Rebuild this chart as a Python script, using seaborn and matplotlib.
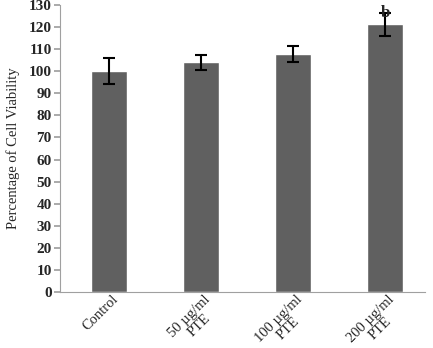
import matplotlib
matplotlib.use('Agg')
import matplotlib.pyplot as plt
import matplotlib.transforms as mtransforms
import seaborn as sns
import pandas as pd

# Cell viability data
groups = ['Control', '50 µg/ml\nPTE', '100 µg/ml\nPTE', '200 µg/ml\nPTE']
viability = [100.2, 104.0, 107.8, 121.2]
errors = [6.0, 3.5, 3.5, 5.2]
sig_labels = ['', '', '', 'b']

df = pd.DataFrame({'group': groups, 'viability': viability})

sns.set_theme(style='white')
plt.rcParams['font.family'] = ['Liberation Serif', 'DejaVu Serif']

fig = plt.figure(figsize=(4.33, 3.48), dpi=100)
ax = fig.add_axes([60 / 433, 56 / 348, 365 / 433, 287 / 348])

sns.barplot(ax=ax, data=df, x='group', y='viability',
            color='#606060', saturation=1, width=0.39, errorbar=None)

ax.errorbar(x=range(len(groups)), y=viability, yerr=errors,
            fmt='none', ecolor='black', elinewidth=1.5, capsize=4, capthick=1.5)

for i, lab in enumerate(sig_labels):
    if lab:
        ax.text(i, viability[i] + errors[i] - 3.5, lab, ha='center', va='bottom',
                fontsize=12, fontweight='bold')

ax.set_ylim(0, 130)
ax.set_xlim(-0.533, 3.435)
ax.set_yticks(range(0, 131, 10))
ax.set_yticklabels([str(v) for v in range(0, 131, 10)], fontweight='bold', fontsize=11)

# x labels placed by hand so they hug the axis like the original
ax.set_xticks(range(len(groups)))
ax.set_xticklabels([])
lab_trans = ax.get_xaxis_transform() + mtransforms.ScaledTranslation(
    3 / 100, -1 / 100, fig.dpi_scale_trans)
for i, g in enumerate(groups):
    ax.text(i, 0, g, transform=lab_trans, rotation=45, ha='right', va='top',
            rotation_mode='anchor', fontsize=10.5, ma='center', linespacing=1.0)

ax.set_xlabel('')
ax.set_ylabel('Percentage of Cell Viability', fontsize=10.5, labelpad=6)

sns.despine(ax=ax)
for side in ['left', 'bottom']:
    ax.spines[side].set_color('#a0a0a0')
    ax.spines[side].set_linewidth(0.8)
ax.tick_params(axis='y', left=True, length=4, color='#a0a0a0', pad=2)
ax.tick_params(axis='x', bottom=False)

fig.savefig('out.png', dpi=100)
